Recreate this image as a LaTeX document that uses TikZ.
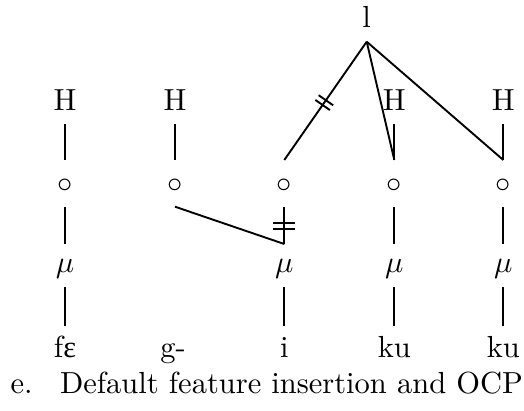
\documentclass[tikz,border=0pt]{standalone}
\usepackage{fontspec}
\newfontfamily\ipafont{Liberation Serif}
\usetikzlibrary{calc}
\begin{document}
\begin{tikzpicture}[x=0.328pt,y=-0.328pt,
  lk/.style={line width=0.62pt},
  lab/.style={inner sep=0pt, anchor=base}]
\useasboundingbox (0,0) rectangle (524,410);
% top tone
\node[lab] (l) at (366.7,27) {l};
% H row
\node[lab] (H1) at (65,110) {H};
\node[lab] (H2) at (175,110) {H};
\node[lab] (H4) at (394.3,110) {H};
\node[lab] (H5) at (503.3,110) {H};
% circle row
\node[lab] (c1) at (65,192) {$\circ$};
\node[lab] (c2) at (175,192) {$\circ$};
\node[lab] (c3) at (284.3,192) {$\circ$};
\node[lab] (c4) at (394.3,192) {$\circ$};
\node[lab] (c5) at (503.3,192) {$\circ$};
% mora row
\node[lab] (m1) at (65,272) {$\mu$};
\node[lab] (m3) at (284.3,272) {$\mu$};
\node[lab] (m4) at (394.3,272) {$\mu$};
\node[lab] (m5) at (503.3,272) {$\mu$};
% segments
\node[lab] (w1) at (65,357) {f{\ipafont ɛ}};
\node[lab] (w2) at (173,357) {g-};
\node[lab] (w3) at (284.3,357) {i};
\node[lab] (w4) at (394.3,357) {ku};
\node[lab] (w5) at (503.3,357) {ku};
% caption
\node[inner sep=0pt, anchor=base west] (cap) at (10,393) {e.\hspace{9pt}Default feature insertion and OCP};
% H to circle
\foreach \i in {1,2,4,5}
  \draw[lk] ($(H\i.base)+(0,14)$) -- ($(c\i.base)+(0,-32)$);
% circle to mora
\foreach \i in {1,3,4,5}
  \draw[lk] ($(c\i.base)+(0,15)$) -- ($(m\i.base)+(0,-28)$);
% mora to segment
\foreach \i in {1,3,4,5}
  \draw[lk] ($(m\i.base)+(0,15)$) -- ($(w\i.base)+(0,-31)$);
% l links
\coordinate (lt) at ($(l.base)+(0,14.7)$);
\coordinate (c3t) at ($(c3.base)+(0,-32)$);
\draw[lk] (lt) -- (c3t);
\draw[lk] (lt) -- ($(c4.base)+(0,-32)$);
\draw[lk] (lt) -- ($(c5.base)+(0,-32)$);
% delinking ticks on l--c3
\coordinate (p1) at ($(c3t)!0.465!(lt)$);
\coordinate (p2) at ($(c3t)!0.505!(lt)$);
\draw[lk] ($(p1)!2.9pt!90:(lt)$) -- ($(p1)!2.9pt!-90:(lt)$);
\draw[lk] ($(p2)!2.9pt!90:(lt)$) -- ($(p2)!2.9pt!-90:(lt)$);
% spreading line from c2 to mu3
\draw[lk] ($(c2.base)+(0,14.7)$) -- ($(m3.base)+(0,-28)$);
% delinking ticks on c3--m3
\draw[lk] ($(c3.base)+(-11,31)$) -- ($(c3.base)+(11,31)$);
\draw[lk] ($(c3.base)+(-11,37)$) -- ($(c3.base)+(11,37)$);
\end{tikzpicture}
\end{document}
